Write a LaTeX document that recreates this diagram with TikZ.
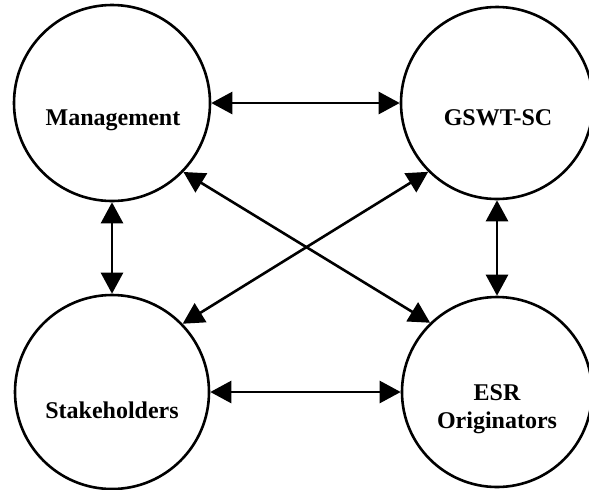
\documentclass[tikz,border=0pt]{standalone}
\usepackage{fontspec}
\setmainfont{Liberation Serif}
\usepackage{tikz}
\usetikzlibrary{arrows.meta}
\tikzset{
  party/.style={circle,draw=black,line width=1.3pt,fill=white,inner sep=0pt},
  partytext/.style={font=\fontsize{12}{14}\selectfont\bfseries,align=center},
  link/.style={{Triangle[length=10.5pt,width=11pt]}-{Triangle[length=10.5pt,width=11pt]},line width=1.3pt,draw=black}
}

\begin{document}
\begin{tikzpicture}[x=0.5pt,y=-0.5pt]
\useasboundingbox (0,0) rectangle (589,489);
\node[party,minimum size=98pt] (mgmt) at (112,103) {};
\node[party,minimum size=96pt] (gswt) at (497,103) {};
\node[party,minimum size=97pt] (stake) at (112,392) {};
\node[party,minimum size=95pt] (esr) at (497,392) {};
\node[partytext] (mgmtlabel) at (113,120) {Management};
\node[partytext] (gswtlabel) at (498,118) {GSWT-SC};
\node[partytext] (stakelabel) at (112,410) {Stakeholders};
\node[partytext] (esrlabel) at (497,409) {ESR\\Originators};
\draw[link] (mgmt.east) -- (gswt.west);
\draw[link] (stake.east) -- (esr.west);
\draw[link] (mgmt.south) -- (stake.north);
\draw[link] (gswt.south) -- (esr.north);
\draw[link] (mgmt.-44) -- (esr.134);
\draw[link] (stake.44) -- (gswt.225);
\end{tikzpicture}
\end{document}
